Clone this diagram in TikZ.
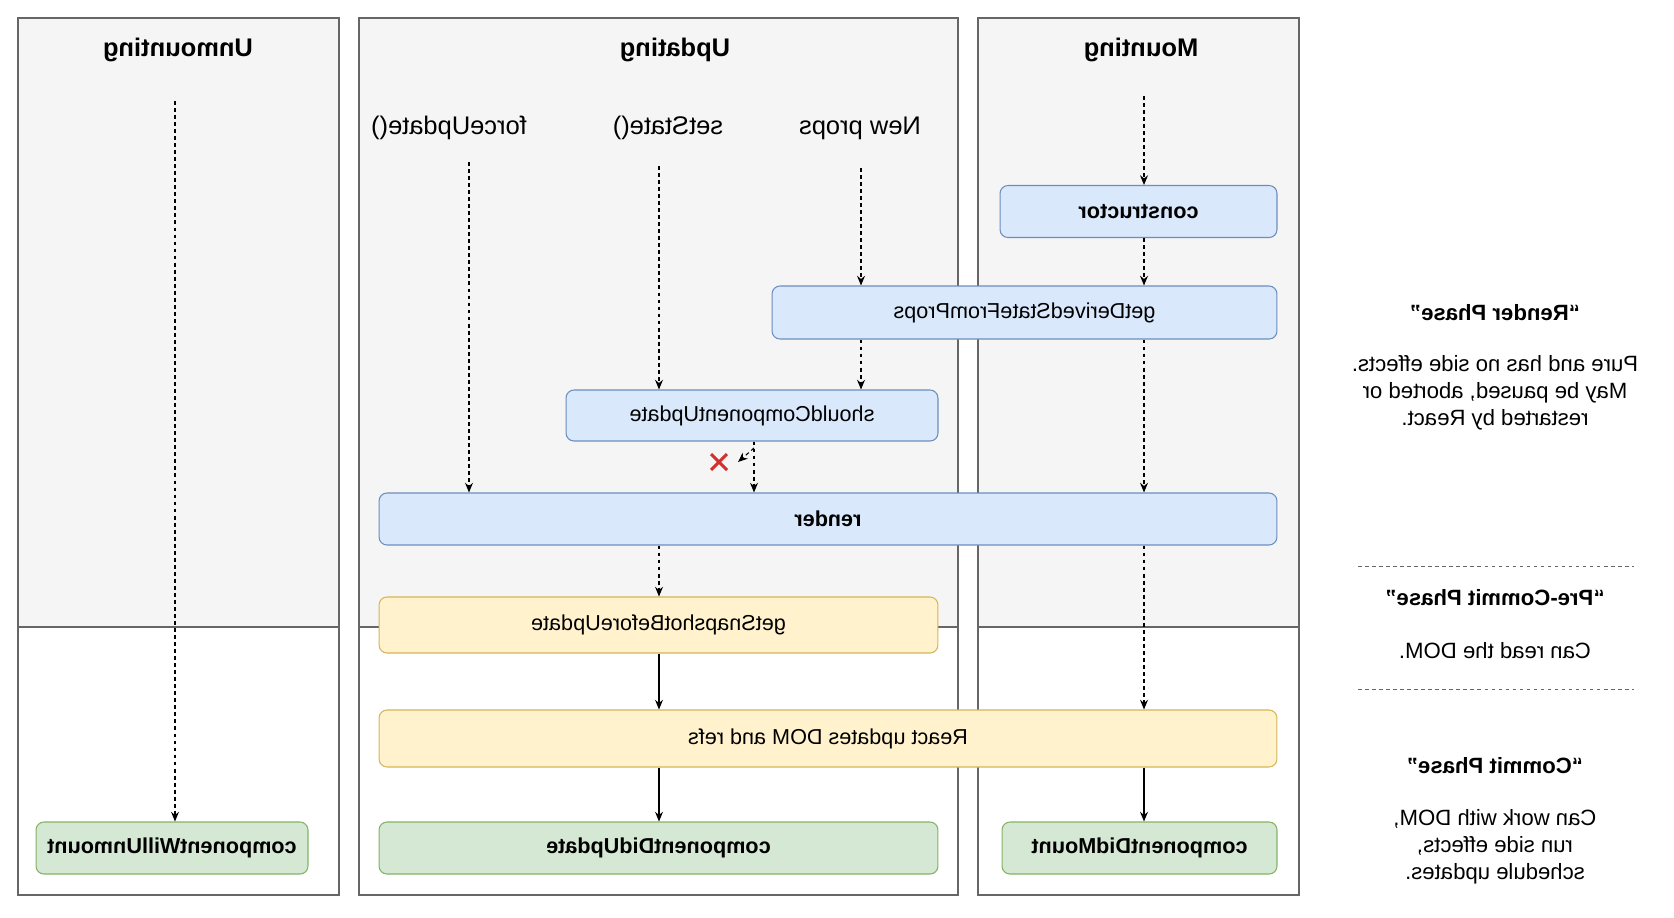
\documentclass[tikz,border=0pt]{standalone}
\usepackage{fontspec}
\setmainfont{Liberation Sans}
\usepackage{tikz}
\usetikzlibrary{arrows.meta}
\usetikzlibrary{shapes.misc}

\definecolor{laneGray}{HTML}{F5F5F5}
\definecolor{laneLine}{HTML}{666666}
\definecolor{blueFill}{HTML}{DAE8FC}
\definecolor{blueLine}{HTML}{6C8EBF}
\definecolor{yellowFill}{HTML}{FFF2CC}
\definecolor{yellowLine}{HTML}{D6B656}
\definecolor{greenFill}{HTML}{D5E8D4}
\definecolor{greenLine}{HTML}{82B366}
\definecolor{stopRed}{HTML}{D32F2F}

\tikzset{
  flip/.style={xscale=-1},
  lane/.style={draw=laneLine, line width=0.6pt},
  method/.style={flip, draw, rounded corners=4.5pt, line width=0.6pt, inner sep=0pt, minimum height=1.04cm, font=\fontsize{12.3}{14}\selectfont},
  renderStep/.style={method, fill=blueFill, draw=blueLine},
  preStep/.style={method, fill=yellowFill, draw=yellowLine},
  commitStep/.style={method, fill=greenFill, draw=greenLine},
  laneTitle/.style={flip, font=\fontsize{14.5}{17}\selectfont\bfseries},
  trigger/.style={flip, font=\fontsize{14.5}{17}\selectfont},
  phaseHead/.style={flip, font=\fontsize{12.6}{15}\selectfont\bfseries},
  phaseText/.style={flip, align=center, font=\fontsize{12.6}{15.3}\selectfont},
  phaseRule/.style={draw=laneLine, line width=0.5pt, dash pattern=on 2pt off 2pt},
  flow/.style={line width=0.6pt, arrows={-Stealth[width=4.5pt, length=5.5pt]}},
  maybe/.style={flow, dash pattern=on 2.2pt off 1.8pt},
  stopmark/.style={cross out, draw=stopRed, line width=1.7pt, minimum size=0.26cm, inner sep=0pt}
}

\begin{document}
\begin{tikzpicture}[x=0.02cm, y=-0.02cm]
\useasboundingbox (0,0) rectangle (1674,917);

\fill[laneGray] (18,18) rectangle (339,627);
\draw[lane] (18,18) rectangle (339,895);
\draw[lane] (18,627) -- (339,627);
\fill[laneGray] (359,18) rectangle (958,627);
\draw[lane] (359,18) rectangle (958,895);
\draw[lane] (359,627) -- (958,627);
\fill[laneGray] (978,18) rectangle (1299,627);
\draw[lane] (978,18) rectangle (1299,895);
\draw[lane] (978,627) -- (1299,627);

\node[laneTitle] (unmountTitle) at (178,50) {Unmounting};
\node[laneTitle] (updateTitle) at (675,50) {Updating};
\node[laneTitle] (mountTitle) at (1141,50) {Mounting};

\node[trigger] (forceLabel) at (449,128) {forceUpdate()};
\node[trigger] (stateLabel) at (668,128) {setState()};
\node[trigger] (propsLabel) at (860,128) {New props};

\node[renderStep, minimum width=5.54cm, font=\fontsize{12.3}{14}\selectfont\bfseries] (ctor) at (1138.5,211.5) {constructor};
\node[renderStep, minimum width=10.1cm, minimum height=1.06cm] (derived) at (1024.5,312.5) {getDerivedStateFromProps};
\node[renderStep, minimum width=7.44cm, minimum height=1.02cm] (should) at (752,415.5) {shouldComponentUpdate};
\node[renderStep, minimum width=17.96cm, font=\fontsize{12.3}{14}\selectfont\bfseries] (render) at (828,519) {render};
\node[preStep, minimum width=11.18cm, minimum height=1.12cm] (snapshot) at (658.5,625) {getSnapshotBeforeUpdate};
\node[preStep, minimum width=17.96cm, minimum height=1.14cm] (domUpdate) at (828,738.5) {React updates DOM and refs};
\node[commitStep, minimum width=11.18cm, font=\fontsize{12.3}{14}\selectfont\bfseries] (didUpdate) at (658.5,848) {componentDidUpdate};
\node[commitStep, minimum width=5.5cm, font=\fontsize{12.3}{14}\selectfont\bfseries] (didMount) at (1139.5,848) {componentDidMount};
\node[commitStep, minimum width=5.44cm, font=\fontsize{12.3}{14}\selectfont\bfseries] (willUnmount) at (172,848) {componentWillUnmount};

\node[stopmark] (stop) at (719,462) {};

\coordinate (unmountStart) at (175,101);
\coordinate (forceStart) at (469,162);
\coordinate (stateStart) at (659,166);
\coordinate (propsStart) at (861,168);
\coordinate (mountStart) at (1144,96);
\coordinate (skip) at (754,0);
\coordinate (skipFrom) at (754,448);
\coordinate (skipTip) at (738,462);

\draw[maybe] (unmountStart) -- (unmountStart |- willUnmount.north);

\draw[maybe] (forceStart) -- (forceStart |- render.north);
\draw[maybe] (stateStart) -- (stateStart |- should.north);
\draw[maybe] (propsStart) -- (propsStart |- derived.north);
\draw[maybe] (propsStart |- derived.south) -- (propsStart |- should.north);
\draw[maybe] (skip |- should.south) -- (skip |- render.north);
\draw[maybe] (skipFrom) -- (skipTip);
\draw[maybe] (stateStart |- render.south) -- (stateStart |- snapshot.north);
\draw[flow] (stateStart |- snapshot.south) -- (stateStart |- domUpdate.north);
\draw[flow] (stateStart |- domUpdate.south) -- (stateStart |- didUpdate.north);

\draw[maybe] (mountStart) -- (mountStart |- ctor.north);
\draw[maybe] (mountStart |- ctor.south) -- (mountStart |- derived.north);
\draw[maybe] (mountStart |- derived.south) -- (mountStart |- render.north);
\draw[maybe] (mountStart |- render.south) -- (mountStart |- domUpdate.north);
\draw[flow] (mountStart |- domUpdate.south) -- (mountStart |- didMount.north);

\node[phaseHead] (renderHead) at (1495,313) {“Render Phase”};
\node[phaseText] (renderText) at (1495,393) {Pure and has no side effects.\\May be paused, aborted or\\restarted by React.};
\draw[phaseRule] (1358,566) -- (1634,566);
\node[phaseHead] (preHead) at (1495,598) {“Pre-Commit Phase”};
\node[phaseText] (preText) at (1495,651) {Can read the DOM.};
\draw[phaseRule] (1358,689) -- (1634,689);
\node[phaseHead] (commitHead) at (1495,766) {“Commit Phase”};
\node[phaseText] (commitText) at (1495,847) {Can work with DOM,\\run side effects,\\schedule updates.};
\end{tikzpicture}
\end{document}
